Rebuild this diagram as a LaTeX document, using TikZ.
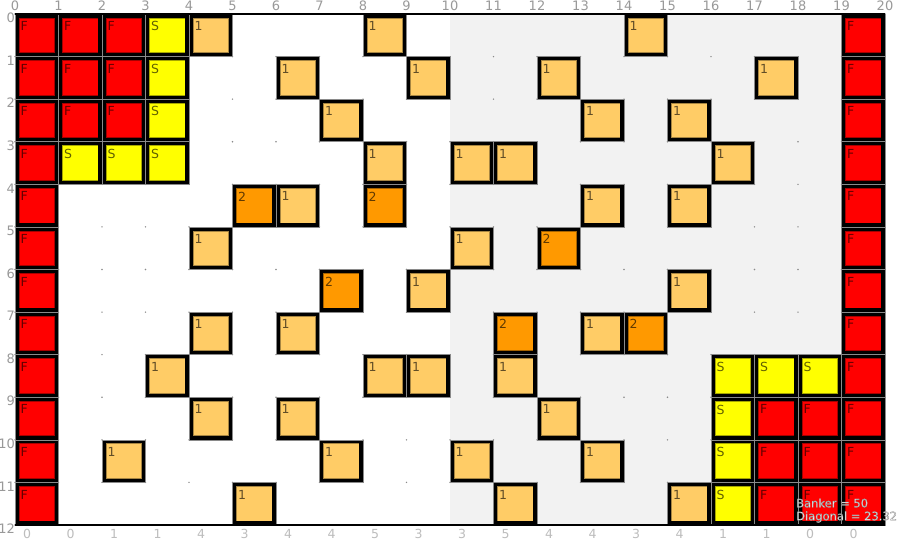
\documentclass[tikz,border=0pt]{standalone}
\usepackage{fontspec}
\setmainfont{DejaVu Sans}
\definecolor{cF}{HTML}{FF0000}
\definecolor{cS}{HTML}{FFFF00}
\definecolor{cOne}{HTML}{FFCC66}
\definecolor{cTwo}{HTML}{FF9900}
\definecolor{bgGray}{HTML}{F2F2F2}
\definecolor{axisGray}{HTML}{999999}
\definecolor{sumGray}{HTML}{BDBDBD}
\definecolor{dotGray}{HTML}{8A8A8A}
\tikzset{
  celltext/.style={inner sep=0pt, anchor=north west, text=black, text opacity=0.62,
    font=\fontsize{12.5}{14}\selectfont},
  axislbl/.style={inner sep=0pt, text=axisGray, font=\fontsize{13}{15}\selectfont},
  sumlbl/.style={inner sep=0pt, text=sumGray, font=\fontsize{12.5}{14}\selectfont},
  infolbl/.style={inner sep=0pt, anchor=west, font=\fontsize{11.5}{13}\selectfont},
}
\newcommand\gcell[4]{%
  \fill[#3] (#1,#2) rectangle (#1+1,#2+1);
  \draw[#3!65!black, line width=0.8pt] ([shift={(4pt,-4pt)}]#1,#2) rectangle ([shift={(-4pt,4pt)}]#1+1,#2+1);
  \draw[black, line width=3.6pt] ([shift={(1.8pt,-1.8pt)}]#1,#2) rectangle ([shift={(-1.8pt,1.8pt)}]#1+1,#2+1);
  \draw[dotGray, line width=0.6pt] (#1,#2) rectangle (#1+1,#2+1);
  \node[celltext] (t-#1-#2) at ([shift={(5.5pt,-7.3pt)}]#1,#2) {#4};
}
\newcommand\halotext[1]{\color{white}\special{pdf:code 0.5 G 0.3 w 2 Tr}#1\special{pdf:code 0 Tr}}
\begin{document}
\begin{tikzpicture}[x=1pt,y=-1pt]
\useasboundingbox (0,0) rectangle (900,540);
\fill[white] (0,0) rectangle (900,540);
\begin{scope}[shift={(15pt,-14pt)}, x=43.5pt, y=-42.583pt]
  \fill[bgGray] (10,0) rectangle (20,12);
  \foreach \i in {0,...,20}{\foreach \j in {0,...,12}{\fill[dotGray] (\i,\j) circle (0.8pt);}}
  % F cells
  \foreach \r in {0,...,11}{\gcell{0}{\r}{cF}{F}\gcell{19}{\r}{cF}{F}}
  \foreach \c/\r in {1/0,2/0,1/1,2/1,1/2,2/2,17/9,18/9,17/10,18/10,17/11,18/11}{\gcell{\c}{\r}{cF}{F}}
  % S cells
  \foreach \c/\r in {3/0,3/1,3/2,1/3,2/3,3/3,16/8,17/8,18/8,16/9,16/10,16/11}{\gcell{\c}{\r}{cS}{S}}
  % 2 cells
  \foreach \c/\r in {5/4,8/4,12/5,7/6,11/7,14/7}{\gcell{\c}{\r}{cTwo}{2}}
  % 1 cells
  \foreach \c/\r in {4/0,8/0,14/0,6/1,9/1,12/1,17/1,7/2,13/2,15/2,8/3,10/3,11/3,16/3,
     6/4,13/4,15/4,4/5,10/5,9/6,15/6,4/7,6/7,13/7,3/8,8/8,9/8,11/8,4/9,6/9,12/9,
     2/10,7/10,10/10,13/10,5/11,11/11,15/11}{\gcell{\c}{\r}{cOne}{1}}
  % frame lines
  \draw[black, line width=2pt] (0,0) -- (20,0);
  \draw[black, line width=2pt] (0,12) -- (20,12);
  % axis labels
  \foreach \i in {0,...,20}{\node[axislbl] (top-\i) at ([yshift=8pt]\i,0) {\i};}
  \foreach \j in {0,...,12}{\node[axislbl, anchor=east] (left-\j) at ([shift={(0pt,-4pt)}]0,\j) {\j};}
  \foreach \v [count=\k from 0] in {0,0,1,1,4,3,4,4,5,3,3,5,4,4,3,4,1,1,0,0}{
    \node[sumlbl] (bot-\k) at ([shift={(12pt,-9pt)}]\k,12) {\v};}
\end{scope}
\node[infolbl] (banker) at (796,503) {\halotext{Banker = 50}};
\node[infolbl] (diag) at (796,517) {\halotext{Diagonal = 23.32}};
\end{tikzpicture}
\end{document}
